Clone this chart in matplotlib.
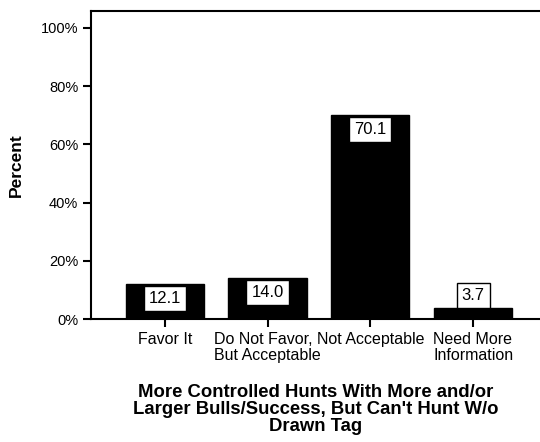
import matplotlib.pyplot as plt
from matplotlib.ticker import FuncFormatter

plt.rcParams["font.family"] = ["Liberation Sans", "DejaVu Sans"]

categories = [
    "Favor It",
    "Do Not Favor,\nBut Acceptable",
    "Not Acceptable",
    "Need More\nInformation",
]
percents = [12.1, 14.0, 70.1, 3.7]
y_ticks = [0, 20, 40, 60, 80, 100]

fig = plt.figure(figsize=(5.4, 4.42), dpi=100)
ax = fig.add_axes([0.168, 0.278, 0.832, 0.697])

x = range(len(categories))
ax.bar(x, percents, width=0.76, color="black", edgecolor="black")

box = dict(boxstyle="square,pad=0.3", facecolor="white", edgecolor="black", linewidth=1)
for xi, v in zip(x, percents):
    if v < 8:
        ax.annotate(f"{v:.1f}", (xi, v), xytext=(0, 4), textcoords="offset points",
                    ha="center", va="bottom", fontsize=12, bbox=box)
    else:
        ax.annotate(f"{v:.1f}", (xi, v), xytext=(0, -5), textcoords="offset points",
                    ha="center", va="top", fontsize=12, bbox=box)

ax.set_xlim(-0.72, 3.65)
ax.set_ylim(0, 105.8)
ax.set_yticks(y_ticks)
ax.yaxis.set_major_formatter(FuncFormatter(lambda v, p: f"{v:.0f}%"))
ax.set_xticks(list(x))
ax.set_xticklabels(categories, multialignment="left", fontsize=11.5, linespacing=1.1)
ax.tick_params(axis="y", labelsize=10.5)

for s in ["left", "bottom", "top"]:
    ax.spines[s].set_linewidth(1.5)
ax.spines["right"].set_visible(False)
ax.tick_params(axis="both", direction="out", length=6, width=1.5, pad=3)

ax.set_ylabel("Percent", fontsize=12.5, fontweight="bold", labelpad=12)
ax.set_xlabel("More Controlled Hunts With More and/or\nLarger Bulls/Success, But Can't Hunt W/o\nDrawn Tag",
              fontsize=13.3, fontweight="bold", labelpad=15, linespacing=1.0)

fig.savefig("out.png", dpi=100)
